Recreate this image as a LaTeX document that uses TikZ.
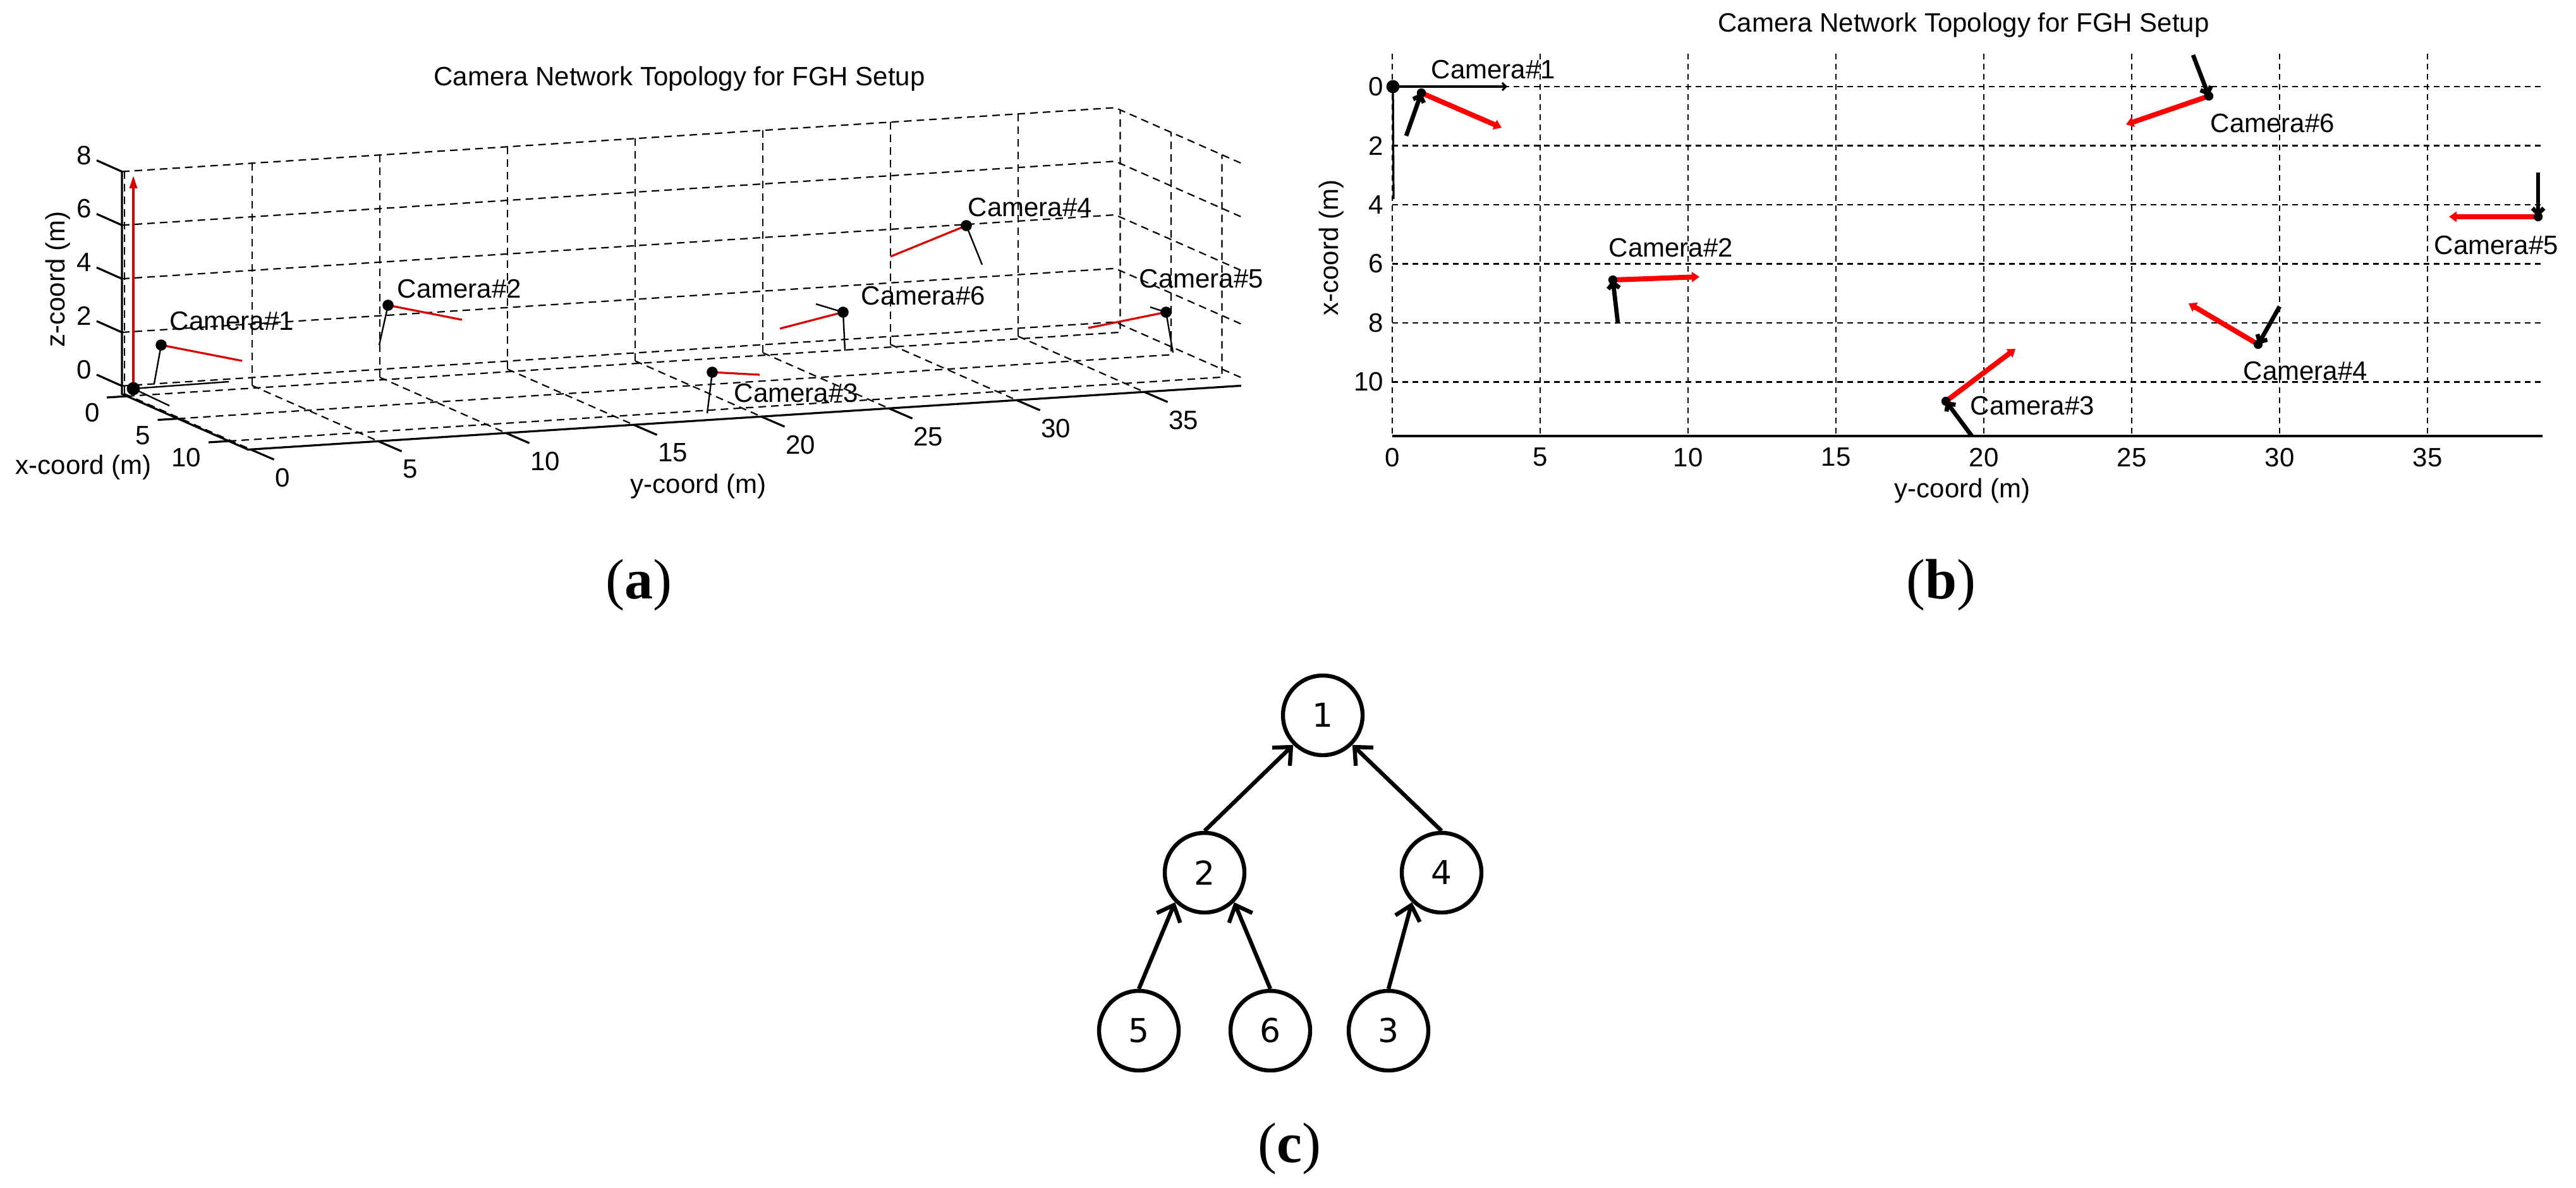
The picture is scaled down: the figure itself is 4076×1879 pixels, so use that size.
\documentclass[tikz,border=0pt]{standalone}
\usepackage{fontspec}
\setmainfont{Liberation Sans}
\newfontfamily\serifb{Liberation Serif}
\newfontfamily\dejavu{DejaVu Sans}
\usetikzlibrary{arrows.meta}
\begin{document}
\begin{tikzpicture}[x={(0.25pt,0)}, y={(0,-0.25pt)},
  plottext/.style={font=\fontsize{10.5pt}{12pt}\selectfont, inner sep=0pt},
  gridA/.style={line width=0.55pt, dash pattern=on 3pt off 2pt},
  gridB/.style={line width=0.6pt, dash pattern=on 2.2pt off 1.8pt},
  axisline/.style={line width=0.8pt},
  redA/.style={red!85!black, line width=0.8pt},
  blackA/.style={black, line width=0.6pt},
  redB/.style={red, line width=2pt, -{Triangle[length=3pt,width=4pt]}},
  blackB/.style={black, line width=1.7pt, -{Straight Barb[length=2.2pt,width=4.5pt]}},
  tnode/.style={circle, draw, line width=1.6pt, minimum size=31.5pt, inner sep=0pt, font=\dejavu\fontsize{13pt}{15pt}\selectfont},
  tedge/.style={line width=1.6pt, -{Straight Barb[length=5.5pt,width=10pt]}},
  panel/.style={font=\serifb\fontsize{22.5pt}{26pt}\selectfont}
]
\useasboundingbox (0,0) rectangle (4076,1879);
\fill[white] (0,0) rectangle (4076,1879);

% ================= panel (a): 3D view =================
\node[plottext] (atitle) at (1075,125) {Camera Network Topology for FGH Setup};
\begin{scope}[shift={(205,614)}, x={(4.025pt,-1.775pt)}, y={(10.1pt,0.65pt)}, z={(0pt,10.6pt)}]
  % back wall (x = xmin) and floor
  \foreach \yy in {0,5,...,35} {
    \draw[gridA] (-0.5,\yy,-0.3) -- (-0.5,\yy,8);
    \draw[gridA] (-0.5,\yy,-0.3) -- (11.9,\yy,-0.3);
  }
  \foreach \zz in {0,2,...,8} {
    \draw[gridA] (-0.5,-0.1,\zz) -- (-0.5,38.8,\zz) -- (11.9,38.8,\zz);
  }
  \foreach \xx in {0,5,10} {
    \draw[gridA] (\xx,-0.1,-0.3) -- (\xx,38.8,-0.3) -- (\xx,38.8,8);
  }
  % axes
  \draw[axisline] (-0.5,-0.1,8) -- (-0.5,-0.1,-0.3) -- (11.9,-0.1,-0.3) -- (11.9,38.8,-0.3);
  % ticks and labels
  \foreach \zz in {0,2,...,8} {
    \draw[axisline] (-0.5,-0.1,\zz) -- ++(-10pt,4.45pt)
      node[plottext, anchor=east, xshift=-1.5pt, yshift=2pt] (azt\zz) {\zz};
  }
  \foreach \xx in {0,5,10} {
    \draw[axisline] (\xx,-0.1,-0.3) -- ++(-8pt,-0.5pt)
      node[plottext, anchor=north east, xshift=-2.5pt, yshift=-2pt] (axt\xx) {\xx};
  }
  \foreach \yy in {0,5,...,35} {
    \draw[axisline] (11.9,\yy,-0.3) -- ++(9.25pt,-4pt)
      node[plottext, anchor=north west, yshift=-3pt] (ayt\yy) {\yy};
  }
\end{scope}
\node[plottext, rotate=90] (azlab) at (92,442) {z-coord (m)};
\node[plottext] (axlab) at (132,740) {x-coord (m)};
\node[plottext] (aylab) at (1105,770) {y-coord (m)};

% origin frame (a)
\draw[redA, -{Triangle[length=5pt,width=3pt]}] (211,615) -- (211,278);
\draw[blackA] (211,615) -- (362,604);
\draw[blackA] (211,615) -- (268,642);
\fill (211,615) circle (2.6pt);

% cameras (a)
\foreach \dx/\dy/\rx/\ry/\kx/\ky/\lx/\ly/\n in {
  255/546/383/571/244/607/268/508/1,
  614/483/731/506/600/546/628/457/2,
  1127/589/1202/593/1119/654/1161/622/3,
  1529/357/1409/406/1554/419/1531/328/4,
  1845/494/1722/519/1856/558/1802/441/5,
  1334/494/1234/520/1337/555/1362/468/6}{
  \draw[redA] (\dx,\dy) -- (\rx,\ry);
  \draw[blackA] (\kx,\ky) -- (\dx,\dy);
  \fill (\dx,\dy) circle (2.2pt);
  \node[plottext, anchor=west] (acam\n) at (\lx,\ly) {Camera\#\n};
}
\draw[blackA] (1820,486) -- (1845,494);
\draw[blackA] (1291,481) -- (1334,494);

\node[panel] (pa) at (1011,926) {(\textbf{a})};

% ================= panel (b): top view =================
\node[plottext] (btitle) at (3107,40) {Camera Network Topology for FGH Setup};
\foreach \v/\X in {0/2203,5/2437,10/2671,15/2905,20/3139,25/3373,30/3607,35/3841} {
  \draw[gridB] (\X,85) -- (\X,690);
  \node[plottext, anchor=north] (bxt\v) at (\X,708) {\v};
}
\foreach \v/\Y in {0/137,2/230.5,4/324,6/417.5,8/511,10/604.5} {
  \draw[gridB] (2203,\Y) -- (4023,\Y);
  \node[plottext, anchor=east] (byt\v) at (2190,\Y) {\v};
}
\draw[axisline] (2203,690) -- (4023,690);
\node[plottext] (bylab) at (3105,777) {y-coord (m)};
\node[plottext, rotate=90] (bxlab) at (2107,392) {x-coord (m)};

% origin frame (b)
\draw[line width=0.8pt, -{Straight Barb[length=1.5pt,width=3pt]}] (2204,137) -- (2385,137);
\draw[line width=0.8pt] (2204,137) -- (2205,315);
\fill (2204,137) circle (2.6pt);

% cameras (b)
\foreach \dx/\dy/\rx/\ry/\kx/\ky/\lx/\ly/\n in {
  2249/147/2376/202/2225/215/2264/110/1,
  2552/443/2689/438/2560/512/2545/392/2,
  3079/635/3189/552/3120/690/3117/642/3,
  3573/545/3463/480/3607/485/3549/587/4,
  4016/343/3875/343/4016/273/3851/388/5,
  3495/152/3364/197/3470/87/3497/195/6}{
  \draw[redB] (\dx,\dy) -- (\rx,\ry);
  \draw[blackB] (\kx,\ky) -- (\dx,\dy);
  \fill (\dx,\dy) circle (1.8pt);
  \node[plottext, anchor=west] (bcam\n) at (\lx,\ly) {Camera\#\n};
}

\node[panel] (pb) at (3071,926) {(\textbf{b})};

% ================= panel (c): tree =================
\node[tnode] (c1) at (2093,1132) {1};
\node[tnode] (c2) at (1906,1381) {2};
\node[tnode] (c4) at (2281,1381) {4};
\node[tnode] (c5) at (1802,1631) {5};
\node[tnode] (c6) at (2010,1631) {6};
\node[tnode] (c3) at (2197,1631) {3};
\draw[tedge] (c2.north) -- (c1.south west);
\draw[tedge] (c4.north) -- (c1.south east);
\draw[tedge] (c5.north) -- (c2.south west);
\draw[tedge] (c6.north) -- (c2.south east);
\draw[tedge] (c3.north) -- (c4.south west);

\node[panel] (pc) at (2040,1818) {(\textbf{c})};
\end{tikzpicture}
\end{document}
